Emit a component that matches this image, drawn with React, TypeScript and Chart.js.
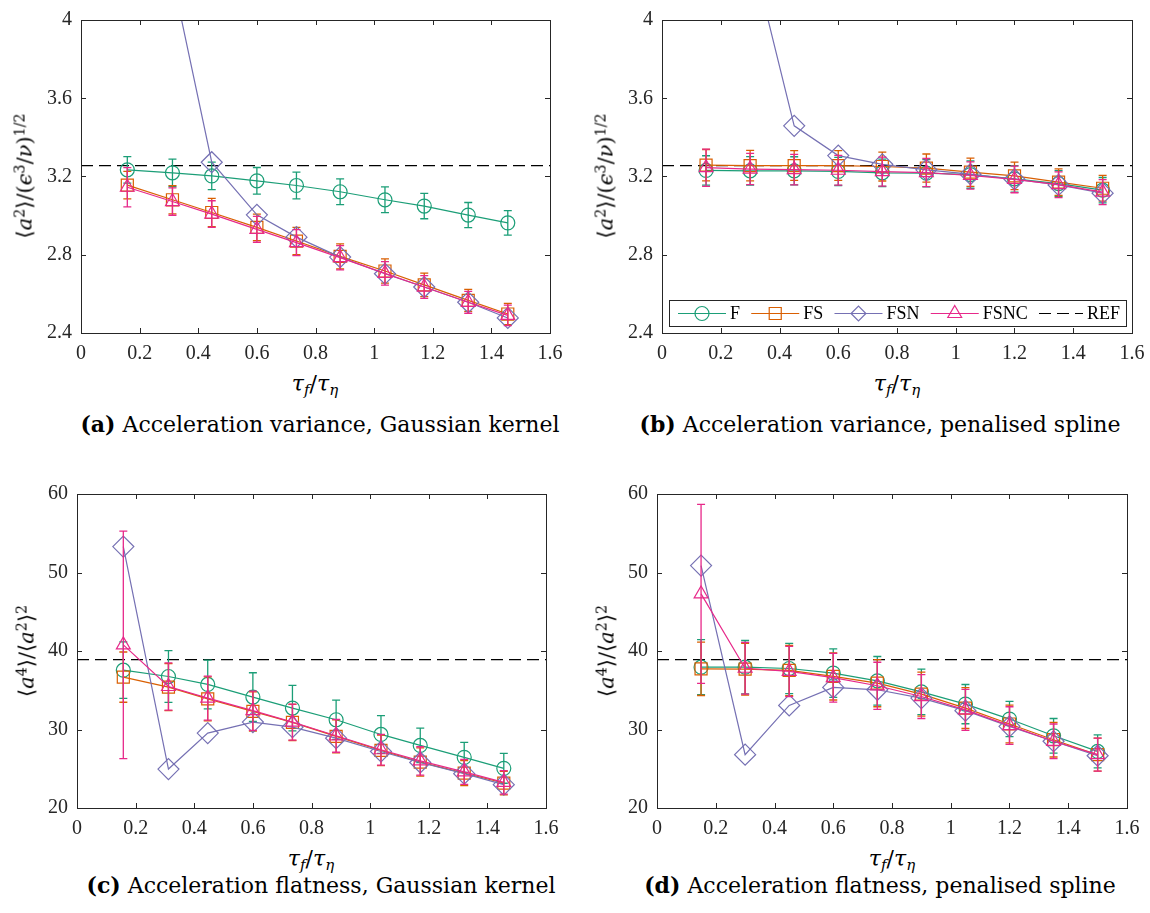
import React, { useEffect, useRef } from "react";
import { Chart, registerables } from "chart.js";
Chart.register(...registerables);

// ---------- data ----------
const X_GAUSS = [0.158, 0.312, 0.446, 0.6, 0.735, 0.884, 1.037, 1.171, 1.321, 1.456];
const X_SPLINE = [0.15, 0.3, 0.45, 0.6, 0.75, 0.9, 1.05, 1.2, 1.35, 1.5];
const X_TICKS = [0, 0.2, 0.4, 0.6, 0.8, 1, 1.2, 1.4, 1.6];
const Y_TICKS_VAR = [2.4, 2.8, 3.2, 3.6, 4];
const Y_TICKS_FLAT = [20, 30, 40, 50, 60];
const REF_VAR = 3.256;
const REF_FLAT = 38.9;

// (a) variance, Gaussian kernel
const VAR_GAUSS_F = [3.234, 3.219, 3.203, 3.178, 3.154, 3.122, 3.081, 3.049, 3.003, 2.963];
const VAR_GAUSS_F_ERR = [0.068, 0.07, 0.07, 0.068, 0.068, 0.066, 0.066, 0.065, 0.064, 0.063];
const VAR_GAUSS_FS = [3.156, 3.081, 3.016, 2.94, 2.87, 2.792, 2.717, 2.646, 2.567, 2.497];
const VAR_GAUSS_FS_ERR = [0.07, 0.072, 0.072, 0.068, 0.07, 0.064, 0.062, 0.06, 0.056, 0.054];
const VAR_GAUSS_FSN = [5.6, 4.22, 3.273, 3.004, 2.89, 2.788, 2.703, 2.635, 2.557, 2.477];
const VAR_GAUSS_FSNC = [3.145, 3.072, 3.008, 2.93, 2.862, 2.785, 2.705, 2.635, 2.557, 2.49];
const VAR_GAUSS_FSNC_ERR = [0.1, 0.07, 0.068, 0.066, 0.066, 0.062, 0.06, 0.058, 0.056, 0.052];

// (b) variance, penalised spline
const VAR_SPLINE_F = [3.231, 3.229, 3.229, 3.226, 3.219, 3.217, 3.21, 3.188, 3.164, 3.13];
const VAR_SPLINE_F_ERR = [0.075, 0.073, 0.072, 0.072, 0.07, 0.07, 0.07, 0.068, 0.066, 0.065];
const VAR_SPLINE_FS = [3.258, 3.256, 3.256, 3.256, 3.251, 3.243, 3.222, 3.203, 3.171, 3.14];
const VAR_SPLINE_FS_ERR = [0.08, 0.078, 0.076, 0.076, 0.074, 0.072, 0.072, 0.07, 0.068, 0.066];
const VAR_SPLINE_FSN = [5.4, 4.373, 3.459, 3.307, 3.262, 3.234, 3.212, 3.186, 3.157, 3.115];
const VAR_SPLINE_FSNC = [3.245, 3.238, 3.235, 3.232, 3.225, 3.22, 3.205, 3.185, 3.158, 3.12];
const VAR_SPLINE_FSNC_ERR = [0.095, 0.08, 0.078, 0.076, 0.074, 0.072, 0.07, 0.068, 0.066, 0.064];

// (c) flatness, Gaussian kernel
const FLAT_GAUSS_F = [37.56, 36.75, 35.74, 34.13, 32.73, 31.24, 29.37, 27.97, 26.45, 25.05];
const FLAT_GAUSS_F_ERR = [3.6, 3.3, 3.1, 3.1, 2.9, 2.5, 2.4, 2.2, 1.9, 1.9];
const FLAT_GAUSS_FS = [36.67, 35.4, 33.91, 32.3, 30.9, 29.12, 27.34, 25.85, 24.45, 23.18];
const FLAT_GAUSS_FS_ERR = [3.2, 3.0, 2.8, 2.5, 2.3, 2.1, 1.95, 1.8, 1.6, 1.5];
const FLAT_GAUSS_FSN = [53.3, 24.96, 29.54, 30.94, 30.3, 28.9, 27.2, 25.8, 24.37, 22.97];
const FLAT_GAUSS_FSNC = [40.78, 35.48, 34.0, 32.4, 30.94, 29.2, 27.42, 26.0, 24.6, 23.26];
const FLAT_GAUSS_FSNC_ERR = [14.5, 3.0, 2.8, 2.5, 2.3, 2.1, 1.95, 1.8, 1.6, 1.5];

// (d) flatness, penalised spline
const FLAT_SPLINE_F = [37.94, 37.94, 37.77, 37.18, 36.2, 34.8, 33.23, 31.33, 29.2, 27.21];
const FLAT_SPLINE_F_ERR = [3.5, 3.4, 3.2, 3.1, 3.1, 2.9, 2.5, 2.25, 2.2, 2.1];
const FLAT_SPLINE_FS = [37.73, 37.69, 37.52, 36.76, 35.9, 34.5, 32.73, 30.7, 28.7, 26.79];
const FLAT_SPLINE_FS_ERR = [3.4, 3.3, 3.2, 3.0, 3.0, 2.8, 2.6, 2.4, 2.2, 2.1];
const FLAT_SPLINE_FSN = [50.88, 26.79, 33.07, 35.36, 35.06, 34.0, 32.4, 30.4, 28.5, 26.66];
const FLAT_SPLINE_FSNC = [47.27, 37.8, 37.4, 36.6, 35.57, 34.2, 32.5, 30.5, 28.5, 26.8];
const FLAT_SPLINE_FSNC_ERR = [11.4, 3.3, 3.2, 3.1, 3.0, 2.8, 2.6, 2.4, 2.2, 2.1];

// ---------- styles ----------
const C_F = "#1b9e77";
const C_FS = "#d95f02";
const C_FSN = "#7570b3";
const C_FSNC = "#e7298a";
const AXIS_COLOR = "#262626";
const TICK_FONT = "'Liberation Serif', serif";
const TEXT_FONT = "'DejaVu Serif', serif";

type Area = { left: number; right: number; top: number; bottom: number };

function drawMarker(ctx: CanvasRenderingContext2D, style: string, r: number, x: number, y: number) {
  ctx.beginPath();
  if (style === "circle") {
    ctx.arc(x, y, r, 0, Math.PI * 2);
  } else if (style === "rect") {
    const s = Math.SQRT1_2 * r;
    ctx.rect(x - s, y - s, 2 * s, 2 * s);
  } else if (style === "rectRot") {
    const s = Math.SQRT1_2 * r;
    ctx.moveTo(x - s, y);
    ctx.lineTo(x, y + s);
    ctx.lineTo(x + s, y);
    ctx.lineTo(x, y - s);
    ctx.closePath();
  } else if (style === "triangle") {
    let a = 0;
    ctx.moveTo(x + Math.sin(a) * r, y - Math.cos(a) * r);
    a += (2 * Math.PI) / 3;
    ctx.lineTo(x + Math.sin(a) * r, y - Math.cos(a) * r);
    a += (2 * Math.PI) / 3;
    ctx.lineTo(x + Math.sin(a) * r, y - Math.cos(a) * r);
    ctx.closePath();
  }
  ctx.stroke();
}

const errorBarPlugin = {
  id: "errorBars",
  afterDatasetDraw(chart: any, args: any) {
    const ds = chart.data.datasets[args.index];
    if (!ds.errors) return;
    const { ctx, chartArea } = chart;
    const xs = chart.scales.x;
    const ys = chart.scales.y;
    ctx.save();
    ctx.beginPath();
    ctx.rect(chartArea.left, chartArea.top, chartArea.right - chartArea.left, chartArea.bottom - chartArea.top);
    ctx.clip();
    ctx.strokeStyle = ds.borderColor;
    ctx.lineWidth = 1.3;
    const cap = 4;
    ds.data.forEach((p: any, i: number) => {
      const e = ds.errors[i];
      const px = xs.getPixelForValue(p.x);
      const y1 = ys.getPixelForValue(p.y - e);
      const y2 = ys.getPixelForValue(p.y + e);
      ctx.beginPath();
      ctx.moveTo(px, y1);
      ctx.lineTo(px, y2);
      ctx.moveTo(px - cap, y1);
      ctx.lineTo(px + cap, y1);
      ctx.moveTo(px - cap, y2);
      ctx.lineTo(px + cap, y2);
      ctx.stroke();
    });
    ctx.restore();
  },
};

const framePlugin = {
  id: "frameTicks",
  afterDatasetsDraw(chart: any) {
    const { ctx, chartArea } = chart;
    const { left, right, top, bottom } = chartArea;
    const xs = chart.scales.x;
    const ys = chart.scales.y;
    ctx.save();
    ctx.strokeStyle = AXIS_COLOR;
    ctx.lineWidth = 1;
    ctx.strokeRect(left + 0.5, top + 0.5, right - left, bottom - top);
    const tl = 5;
    ctx.beginPath();
    xs.ticks.forEach((t: any) => {
      const px = Math.round(xs.getPixelForValue(t.value)) + 0.5;
      ctx.moveTo(px, bottom);
      ctx.lineTo(px, bottom - tl);
      ctx.moveTo(px, top);
      ctx.lineTo(px, top + tl);
    });
    ys.ticks.forEach((t: any) => {
      const py = Math.round(ys.getPixelForValue(t.value)) + 0.5;
      ctx.moveTo(left, py);
      ctx.lineTo(left + tl, py);
      ctx.moveTo(right, py);
      ctx.lineTo(right - tl, py);
    });
    ctx.stroke();
    ctx.restore();
  },
};

const legendPlugin = {
  id: "panelLegend",
  afterDraw(chart: any, _args: any, opts: any) {
    if (!opts || !opts.show) return;
    const { ctx, chartArea } = chart;
    const bx = chartArea.left + 7;
    const bw = chartArea.right - 6 - bx;
    const by = chartArea.bottom - 33;
    const bh = 26;
    ctx.save();
    ctx.fillStyle = "#ffffff";
    ctx.fillRect(bx, by, bw, bh);
    ctx.strokeStyle = AXIS_COLOR;
    ctx.lineWidth = 1;
    ctx.strokeRect(bx + 0.5, by + 0.5, bw, bh);
    ctx.font = "18px " + TICK_FONT;
    ctx.textBaseline = "middle";
    const items = chart.data.datasets.map((d: any) => ({
      label: d.label,
      color: d.borderColor,
      style: d.pointStyle,
      r: d.pointRadius,
      dash: d.borderDash || [],
      lineLen: d.pointRadius ? 48 : 44,
      tw: ctx.measureText(d.label).width,
    }));
    const padL = 9;
    const padR = 6;
    const textGap = 4;
    const used = items.reduce((s: number, it: any) => s + it.lineLen + textGap + it.tw, 0);
    const gap = (bw - padL - padR - used) / (items.length - 1);
    let x = bx + padL;
    const cy = by + bh / 2 + 0.5;
    items.forEach((it: any) => {
      ctx.strokeStyle = it.color;
      ctx.lineWidth = 1.2;
      ctx.setLineDash(it.dash);
      ctx.beginPath();
      ctx.moveTo(x, cy);
      ctx.lineTo(x + it.lineLen, cy);
      ctx.stroke();
      ctx.setLineDash([]);
      if (it.r) {
        ctx.fillStyle = "#ffffff";
        drawMarker(ctx, it.style, it.r, x + it.lineLen / 2, cy);
      }
      ctx.fillStyle = "#000000";
      ctx.fillText(it.label, x + it.lineLen + textGap, cy + 1);
      x += it.lineLen + textGap + it.tw + gap;
    });
    ctx.restore();
  },
};

type SeriesSpec = { ys: number[]; errs?: number[] };

function buildDatasets(xs: number[], f: SeriesSpec, fs: SeriesSpec, fsn: SeriesSpec, fsnc: SeriesSpec, ref: number) {
  const mk = (label: string, color: string, style: string, r: number, s: SeriesSpec, order: number) => ({
    label,
    data: xs.map((x, i) => ({ x, y: s.ys[i] })),
    errors: s.errs,
    borderColor: color,
    backgroundColor: "rgba(0,0,0,0)",
    pointBackgroundColor: "rgba(0,0,0,0)",
    pointBorderColor: color,
    pointStyle: style,
    pointRadius: r,
    pointBorderWidth: 1.2,
    borderWidth: 1.2,
    tension: 0,
    order,
  });
  return [
    mk("F", C_F, "circle", 7, f, 4),
    mk("FS", C_FS, "rect", 8.5, fs, 3),
    mk("FSN", C_FSN, "rectRot", 10.5, fsn, 2),
    mk("FSNC", C_FSNC, "triangle", 8, fsnc, 1),
    {
      label: "REF",
      data: [
        { x: X_TICKS[0], y: ref },
        { x: X_TICKS[X_TICKS.length - 1], y: ref },
      ],
      borderColor: "#000000",
      borderDash: [12, 6],
      borderWidth: 1.2,
      pointRadius: 0,
      order: 5,
    },
  ];
}

type PanelProps = {
  left: number;
  top: number;
  width: number;
  height: number;
  area: Area;
  datasets: any[];
  yTicks: number[];
  legend?: boolean;
};

function Panel({ left, top, width, height, area, datasets, yTicks, legend }: PanelProps) {
  const ref = useRef<HTMLCanvasElement>(null);
  useEffect(() => {
    if (!ref.current) return;
    const font = { family: TICK_FONT, size: 20 };
    const chart = new Chart(ref.current, {
      type: "line",
      data: { datasets },
      options: {
        animation: false,
        responsive: false,
        maintainAspectRatio: false,
        events: [],
        layout: { padding: { left: 0, top: area.top, right: width - area.right, bottom: 0 } },
        plugins: {
          legend: { display: false },
          tooltip: { enabled: false },
          panelLegend: { show: !!legend },
        } as any,
        scales: {
          x: {
            type: "linear",
            min: X_TICKS[0],
            max: X_TICKS[X_TICKS.length - 1],
            grid: { display: false, drawTicks: false },
            border: { display: false },
            ticks: {
              font,
              color: AXIS_COLOR,
              padding: 9,
              maxRotation: 0,
              autoSkip: false,
              callback: (v: any) => String(v),
            },
            afterBuildTicks: (s: any) => {
              s.ticks = X_TICKS.map((v) => ({ value: v }));
            },
            afterFit: (s: any) => {
              s.height = height - area.bottom;
              s.paddingLeft = 0;
              s.paddingRight = 0;
            },
          },
          y: {
            type: "linear",
            min: yTicks[0],
            max: yTicks[yTicks.length - 1],
            grid: { display: false, drawTicks: false },
            border: { display: false },
            ticks: {
              font,
              color: AXIS_COLOR,
              padding: 9,
              autoSkip: false,
              callback: (v: any) => String(v),
            },
            afterBuildTicks: (s: any) => {
              s.ticks = yTicks.map((v) => ({ value: v }));
            },
            afterFit: (s: any) => {
              s.width = area.left;
              s.paddingTop = 0;
              s.paddingBottom = 0;
            },
          },
        },
      } as any,
      plugins: [errorBarPlugin, framePlugin, legendPlugin],
    });
    return () => chart.destroy();
  }, []);
  return (
    <canvas
      ref={ref}
      width={width}
      height={height}
      style={{ position: "absolute", left, top, width, height }}
    />
  );
}

const abs = (x: number, y: number, extra: any = {}) => ({
  position: "absolute" as const,
  left: x,
  top: y,
  transform: "translate(-50%, -50%)",
  whiteSpace: "nowrap" as const,
  ...extra,
});

const mathStyle = { fontFamily: TEXT_FONT, fontSize: 21, fontStyle: "italic", lineHeight: 1 };
const supStyle = { fontSize: "0.68em", verticalAlign: "0.5em", lineHeight: 0, fontStyle: "normal" };
const subStyle = { fontSize: "0.68em", verticalAlign: "-0.3em", lineHeight: 0 };

function XTitle({ x, y }: { x: number; y: number }) {
  return (
    <div style={abs(x, y, { ...mathStyle, fontSize: 22 })}>
      τ<span style={subStyle}>f</span>
      <span style={{ fontStyle: "normal" }}>/</span>τ<span style={subStyle}>η</span>
    </div>
  );
}

function YTitleVar({ x, y }: { x: number; y: number }) {
  return (
    <div style={abs(x, y, { ...mathStyle, transform: "translate(-50%, -50%) rotate(-90deg)" })}>
      <span style={{ fontStyle: "normal" }}>⟨</span>a<span style={supStyle}>2</span>
      <span style={{ fontStyle: "normal" }}>⟩/(</span>ϵ<span style={supStyle}>3</span>
      <span style={{ fontStyle: "normal" }}>/</span>ν<span style={{ fontStyle: "normal" }}>)</span>
      <span style={supStyle}>1/2</span>
    </div>
  );
}

function YTitleFlat({ x, y }: { x: number; y: number }) {
  return (
    <div style={abs(x, y, { ...mathStyle, transform: "translate(-50%, -50%) rotate(-90deg)" })}>
      <span style={{ fontStyle: "normal" }}>⟨</span>a<span style={supStyle}>4</span>
      <span style={{ fontStyle: "normal" }}>⟩/⟨</span>a<span style={supStyle}>2</span>
      <span style={{ fontStyle: "normal" }}>⟩</span>
      <span style={supStyle}>2</span>
    </div>
  );
}

function Caption({ x, y, tag, text }: { x: number; y: number; tag: string; text: string }) {
  return (
    <div style={abs(x, y, { fontFamily: TEXT_FONT, fontSize: 22, color: "#000" })}>
      <b>({tag})</b> {text}
    </div>
  );
}

export default function App() {
  const dsA = buildDatasets(
    X_GAUSS,
    { ys: VAR_GAUSS_F, errs: VAR_GAUSS_F_ERR },
    { ys: VAR_GAUSS_FS, errs: VAR_GAUSS_FS_ERR },
    { ys: VAR_GAUSS_FSN },
    { ys: VAR_GAUSS_FSNC, errs: VAR_GAUSS_FSNC_ERR },
    REF_VAR
  );
  const dsB = buildDatasets(
    X_SPLINE,
    { ys: VAR_SPLINE_F, errs: VAR_SPLINE_F_ERR },
    { ys: VAR_SPLINE_FS, errs: VAR_SPLINE_FS_ERR },
    { ys: VAR_SPLINE_FSN },
    { ys: VAR_SPLINE_FSNC, errs: VAR_SPLINE_FSNC_ERR },
    REF_VAR
  );
  const dsC = buildDatasets(
    X_GAUSS,
    { ys: FLAT_GAUSS_F, errs: FLAT_GAUSS_F_ERR },
    { ys: FLAT_GAUSS_FS, errs: FLAT_GAUSS_FS_ERR },
    { ys: FLAT_GAUSS_FSN },
    { ys: FLAT_GAUSS_FSNC, errs: FLAT_GAUSS_FSNC_ERR },
    REF_FLAT
  );
  const dsD = buildDatasets(
    X_SPLINE,
    { ys: FLAT_SPLINE_F, errs: FLAT_SPLINE_F_ERR },
    { ys: FLAT_SPLINE_FS, errs: FLAT_SPLINE_FS_ERR },
    { ys: FLAT_SPLINE_FSN },
    { ys: FLAT_SPLINE_FSNC, errs: FLAT_SPLINE_FSNC_ERR },
    REF_FLAT
  );

  return (
    <div style={{ position: "absolute", left: 0, top: 0, width: 1150, height: 913, background: "#fff", overflow: "hidden" }}>
      <Panel left={0} top={0} width={580} height={370} area={{ left: 81, right: 550, top: 20, bottom: 333 }} datasets={dsA} yTicks={Y_TICKS_VAR} />
      <Panel left={580} top={0} width={570} height={370} area={{ left: 82, right: 552, top: 20, bottom: 333 }} datasets={dsB} yTicks={Y_TICKS_VAR} legend />
      <Panel left={0} top={474} width={580} height={370} area={{ left: 77, right: 546, top: 20, bottom: 334 }} datasets={dsC} yTicks={Y_TICKS_FLAT} />
      <Panel left={580} top={474} width={570} height={370} area={{ left: 77, right: 547, top: 20, bottom: 334 }} datasets={dsD} yTicks={Y_TICKS_FLAT} />

      <XTitle x={315} y={384} />
      <XTitle x={897} y={384} />
      <XTitle x={311} y={859} />
      <XTitle x={892} y={859} />

      <YTitleVar x={25} y={176} />
      <YTitleVar x={606} y={176} />
      <YTitleFlat x={27} y={651} />
      <YTitleFlat x={607} y={651} />

      <Caption x={320} y={424} tag="a" text="Acceleration variance, Gaussian kernel" />
      <Caption x={880} y={424} tag="b" text="Acceleration variance, penalised spline" />
      <Caption x={321} y={885} tag="c" text="Acceleration flatness, Gaussian kernel" />
      <Caption x={880} y={885} tag="d" text="Acceleration flatness, penalised spline" />
    </div>
  );
}
